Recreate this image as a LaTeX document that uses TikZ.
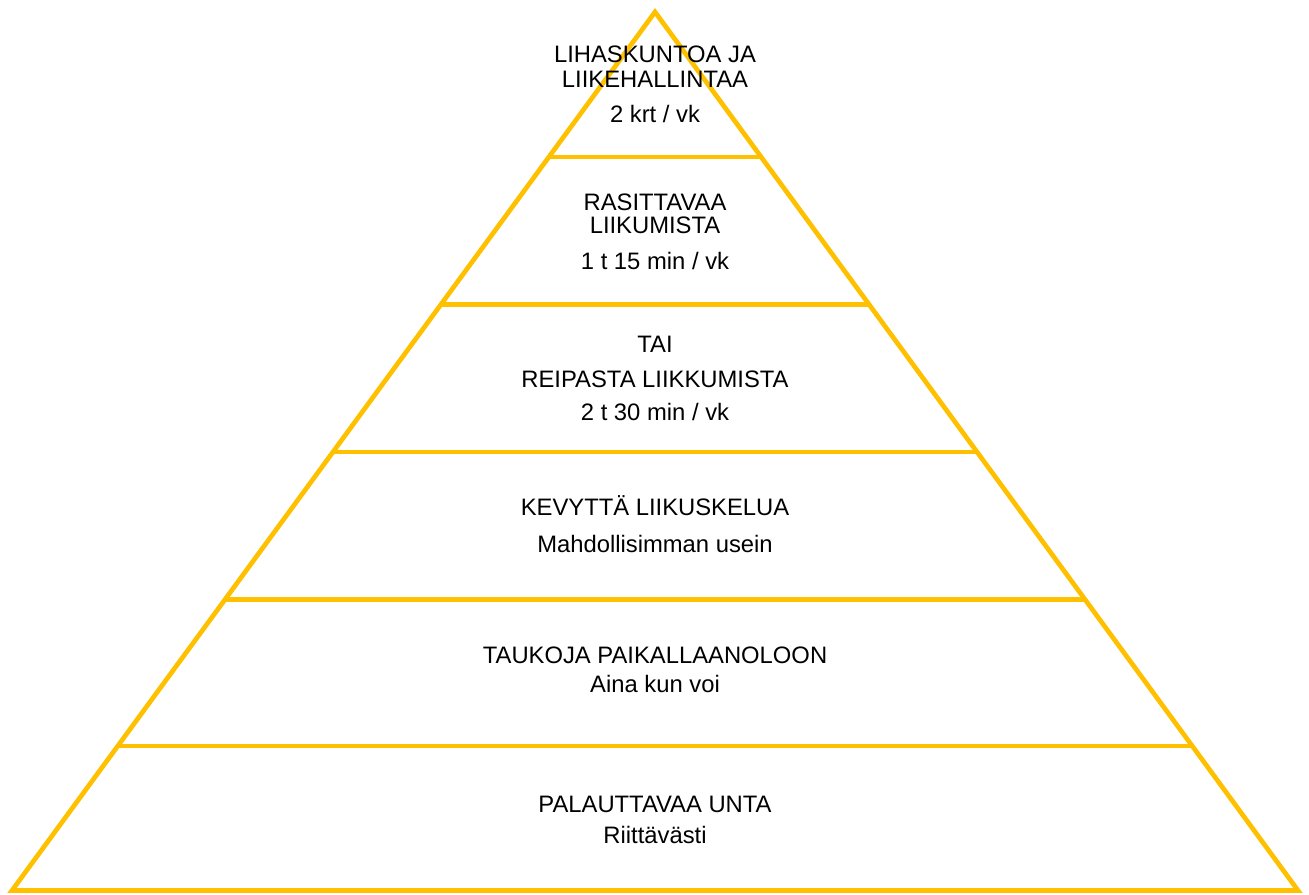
\documentclass[tikz,border=0pt]{standalone}
\usepackage{fontspec}
\setmainfont{Liberation Sans}
\usetikzlibrary{calc}
\definecolor{gold}{HTML}{FFC000}
\tikzset{
  tier/.style={gold,line width=2.35pt},
  txt/.style={anchor=base,inner sep=0pt,font=\fontsize{11.9}{14}\selectfont}
}
\begin{document}
\begin{tikzpicture}[x=0.5pt,y=-0.5pt]
\useasboundingbox (0,0) rectangle (1309,894);
\coordinate (apex) at (655,12);
\coordinate (bl) at (12,890.5);
\coordinate (br) at (1298,890.5);

\foreach \y in {157,304.5,452,599.5,746}{
  \pgfmathsetmacro\t{(\y-12)/878.5}
  \draw[tier] ($(apex)!\t!(bl)$) -- ($(apex)!\t!(br)$);
}
\draw[tier] (apex) -- (bl) -- (br) -- cycle;

\node[txt] (lihas) at (655,62) {LIHASKUNTOA JA};
\node[txt] (liike) at (655,87) {LIIKEHALLINTAA};
\node[txt] (krt) at (655,122) {2 krt / vk};

\node[txt] (rasit) at (655,210) {RASITTAVAA};
\node[txt] (liikum) at (655,233) {LIIKUMISTA};
\node[txt] (min15) at (655,269) {1 t 15 min / vk};

\node[txt] (tai) at (655,352) {TAI};
\node[txt] (reip) at (655,387) {REIPASTA LIIKKUMISTA};
\node[txt] (min30) at (655,420) {2 t 30 min / vk};

\node[txt] (kevyt) at (655,515) {KEVYTTÄ LIIKUSKELUA};
\node[txt] (usein) at (655,552) {Mahdollisimman usein};

\node[txt] (tauko) at (655,663) {TAUKOJA PAIKALLAANOLOON};
\node[txt] (aina) at (655,692) {Aina kun voi};

\node[txt] (uni) at (655,812) {PALAUTTAVAA UNTA};
\node[txt] (riitt) at (655,843) {Riittävästi};
\end{tikzpicture}
\end{document}
